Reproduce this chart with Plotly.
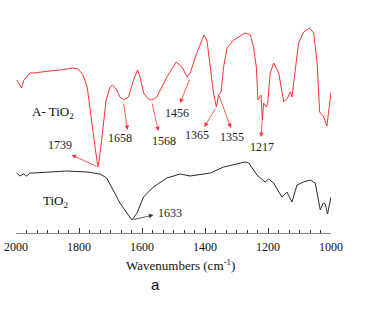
import plotly.graph_objects as go

# A-TiO2 (red) spectrum, arbitrary units
a_wn = [1998, 1982, 1975, 1966, 1956, 1946, 1924, 1892, 1860, 1819, 1803, 1787, 1774, 1765, 1749, 1740,
        1736, 1728, 1714, 1701, 1693, 1680, 1670, 1659, 1643, 1627, 1614, 1606, 1595, 1580, 1569, 1553,
        1521, 1492, 1473, 1457, 1447, 1426, 1403, 1394, 1383, 1373, 1364, 1357, 1349, 1341, 1330, 1309,
        1272, 1256, 1246, 1237, 1232, 1227, 1222, 1218, 1214, 1205, 1201, 1193, 1182, 1166, 1150, 1138,
        1129, 1124, 1113, 1103, 1087, 1068, 1055, 1044, 1036, 1023, 1013, 1008, 1000]
a_val = [153, 145, 153, 156, 160, 160, 161, 162, 163, 165, 164, 158, 146, 123, 86, 66,
         73, 93, 133, 146, 148, 143, 136, 133, 136, 153, 163, 156, 140, 134, 133, 136,
         156, 171, 166, 156, 160, 180, 198, 193, 163, 140, 126, 138, 141, 166, 185, 193,
         200, 198, 186, 166, 133, 136, 138, 113, 130, 126, 130, 160, 170, 160, 131, 135,
         141, 136, 166, 190, 201, 205, 200, 170, 121, 116, 107, 123, 141]

# TiO2 (black) spectrum, arbitrary units
t_wn = [1998, 1987, 1977, 1966, 1956, 1945, 1892, 1839, 1775, 1733, 1712, 1691, 1670, 1648, 1632, 1616,
        1595, 1564, 1521, 1479, 1447, 1383, 1341, 1272, 1261, 1235, 1209, 1198, 1182, 1156, 1140, 1124,
        1108, 1087, 1066, 1050, 1039, 1034, 1025, 1018, 1011, 1005, 1000]
t_val = [60, 57, 59, 57, 60, 60, 61, 62, 61, 59, 55, 43, 30, 20, 13, 20,
         36, 46, 55, 59, 57, 60, 66, 71, 70, 58, 51, 54, 50, 36, 41, 31,
         48, 51, 53, 50, 33, 23, 30, 29, 19, 30, 36]

# peak labels: text, text position, arrow tail (on curve), arrow head
red_peaks = ["1739", "1658", "1568", "1456", "1365", "1355", "1217"]
red_text_x = [1860, 1669, 1530, 1489, 1426, 1313, 1219]
red_text_y = [88, 95, 92, 120, 98, 96, 86]
red_tail_x = [1740, 1659, 1569, 1447, 1364, 1357, 1218]
red_tail_y = [66, 131, 131, 155, 126, 139, 115]
red_head_x = [1823, 1646, 1548, 1479, 1402, 1318, 1222]
red_head_y = [78, 103, 102, 130, 106, 105, 96]

black_peaks = ["1633"]
black_text_x = [1511]
black_text_y = [20]
black_tail_x = [1632]
black_tail_y = [13]
black_head_x = [1564]
black_head_y = [18]

x_ticks = [2000, 1800, 1600, 1400, 1200, 1000]

serif = '"Liberation Serif", "Times New Roman", serif'
sans = '"Liberation Sans", Arial, sans-serif'

fig = go.Figure()
fig.add_trace(go.Scatter(x=a_wn, y=a_val, mode="lines",
                         line=dict(color="#ff3333", width=1), showlegend=False))
fig.add_trace(go.Scatter(x=t_wn, y=t_val, mode="lines",
                         line=dict(color="#2a2a2a", width=1), showlegend=False))

annotations = []
for lab, tx, ty, x0, y0, x1, y1 in zip(red_peaks, red_text_x, red_text_y,
                                        red_tail_x, red_tail_y, red_head_x, red_head_y):
    annotations.append(dict(x=x1, y=y1, ax=x0, ay=y0, xref="x", yref="y", axref="x", ayref="y",
                            text="", showarrow=True, arrowhead=2, arrowsize=1.1, arrowwidth=0.8,
                            arrowcolor="#ff3030", standoff=0, startstandoff=0))
    annotations.append(dict(x=tx, y=ty, xref="x", yref="y", text=lab, showarrow=False,
                            xanchor="center", yanchor="middle",
                            font=dict(family=serif, size=12, color="#222")))
for lab, tx, ty, x0, y0, x1, y1 in zip(black_peaks, black_text_x, black_text_y,
                                        black_tail_x, black_tail_y, black_head_x, black_head_y):
    annotations.append(dict(x=x1, y=y1, ax=x0, ay=y0, xref="x", yref="y", axref="x", ayref="y",
                            text="", showarrow=True, arrowhead=2, arrowsize=1.1, arrowwidth=0.8,
                            arrowcolor="#333", standoff=0, startstandoff=0))
    annotations.append(dict(x=tx, y=ty, xref="x", yref="y", text=lab, showarrow=False,
                            xanchor="center", yanchor="middle",
                            font=dict(family=serif, size=12, color="#222")))

annotations.append(dict(x=1882, y=121, xref="x", yref="y", text="A- TiO<sub>2</sub>", showarrow=False,
                        xanchor="center", yanchor="middle",
                        font=dict(family=serif, size=13, color="#111")))
annotations.append(dict(x=1876, y=32, xref="x", yref="y", text="TiO<sub>2</sub>", showarrow=False,
                        xanchor="center", yanchor="middle",
                        font=dict(family=serif, size=13, color="#111")))
annotations.append(dict(x=1479, y=-0.137, xref="x", yref="paper", text="Wavenumbers (cm<sup>-1</sup>)",
                        showarrow=False, xanchor="center", yanchor="middle",
                        font=dict(family=serif, size=13, color="#111")))
annotations.append(dict(x=1558, y=-0.223, xref="x", yref="paper", text="a", showarrow=False,
                        xanchor="center", yanchor="middle",
                        font=dict(family=sans, size=15, color="#111")))

fig.update_layout(
    width=378, height=325,
    margin=dict(l=16, r=47, t=0, b=92),
    paper_bgcolor="white", plot_bgcolor="white",
    annotations=annotations,
    xaxis=dict(range=[2000, 1000], tickvals=x_ticks, ticktext=[str(v) for v in x_ticks],
               ticks="inside", ticklen=5, tickwidth=1, tickcolor="#333", ticklabelstandoff=3,
               showline=True, linecolor="#888", linewidth=1, showgrid=False, zeroline=False,
               tickfont=dict(family=serif, size=12, color="#111"),
               minor=dict(dtick=200 / 6, ticks="inside", ticklen=3, tickcolor="#333", tickwidth=1, showgrid=False)),
    yaxis=dict(range=[0, 233], visible=False, showgrid=False, zeroline=False),
)

fig.write_html("out.html")
